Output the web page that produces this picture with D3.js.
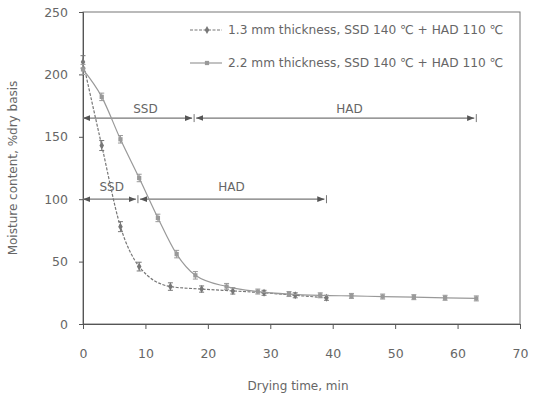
<!DOCTYPE html>
<html>
<head>
<meta charset="UTF-8">
<title>Moisture content vs drying time</title>
<script src="https://cdn.jsdelivr.net/npm/d3@7"></script>
<style>
  body { margin: 0; background: #fff; }
  text { font-family: "DejaVu Sans", sans-serif; fill: #666; }
</style>
</head>
<body>
<svg width="534" height="400"></svg>
<script>
// data
var xTicks = [0, 10, 20, 30, 40, 50, 60, 70];
var yTicks = [0, 50, 100, 150, 200, 250];

var timeA = [0, 3, 6, 9, 14, 19, 24, 29, 34, 39];
var moistA = [210, 143, 78, 46, 30, 28, 26.5, 25, 23, 21];
var errA = [5, 4, 4, 3.5, 3, 2.5, 2.5, 2, 2, 2];

var timeB = [0, 3, 6, 9, 12, 15, 18, 23, 28, 33, 38, 43, 48, 53, 58, 63];
var moistB = [204, 182, 148, 117, 85, 56, 39, 30, 26, 24, 23, 22.5, 22, 21.5, 21, 20.5];
var errB = [4, 3, 3, 3, 3, 3, 3, 2.5, 2, 2, 2, 2, 2, 2, 2, 2];

var seriesNames = ["1.3 mm thickness, SSD 140 \u2103 + HAD 110 \u2103",
                   "2.2 mm thickness, SSD 140 \u2103 + HAD 110 \u2103"];

// drying stage arrows: [label, start, end, level]
var stagesB = [["SSD", 0, 17.8, 165], ["HAD", 17.8, 63, 165]];
var stagesA = [["SSD", 0, 8.8, 100], ["HAD", 8.8, 39, 100]];

var svg = d3.select("svg");
var m = {left: 83, right: 14, top: 12, bottom: 76};
var W = 534, H = 400;

var x = d3.scaleLinear().domain([0, 70]).range([m.left, W - m.right]);
var y = d3.scaleLinear().domain([0, 250]).range([H - m.bottom, m.top]);

// frame
svg.append("rect")
  .attr("x", x(0)).attr("y", y(250))
  .attr("width", x(70) - x(0)).attr("height", y(0) - y(250))
  .attr("fill", "none").attr("stroke", "#777").attr("stroke-width", 1);

var xAxis = svg.append("g").attr("transform", "translate(0," + y(0) + ")")
  .call(d3.axisBottom(x).tickValues(xTicks).tickSize(5).tickPadding(20));
var yAxis = svg.append("g").attr("transform", "translate(" + x(0) + ",0)")
  .call(d3.axisLeft(y).tickValues(yTicks).tickSize(4).tickPadding(11));
[xAxis, yAxis].forEach(function(a) {
  a.select(".domain").attr("stroke", "#555");
  a.selectAll(".tick line").attr("stroke", "#555");
  a.selectAll("text").attr("font-size", 12.5).attr("fill", "#777")
    .style("font-family", "DejaVu Sans, sans-serif");
});

svg.append("text").attr("x", 298).attr("y", 390)
  .attr("text-anchor", "middle").attr("font-size", 12)
  .text("Drying time, min");
svg.append("text")
  .attr("transform", "translate(17,168) rotate(-90)")
  .attr("text-anchor", "middle").attr("font-size", 12)
  .text("Moisture content, %dry basis");

// arrowheads
var defs = svg.append("defs");
defs.append("marker").attr("id", "ah")
  .attr("viewBox", "0 0 10 10").attr("refX", 10).attr("refY", 5)
  .attr("markerWidth", 6).attr("markerHeight", 6).attr("orient", "auto-start-reverse")
  .append("path").attr("d", "M0,1L10,5L0,9Z").attr("fill", "#555");

function drawStages(st) {
  st.forEach(function(s, i) {
    svg.append("line")
      .attr("x1", x(s[1]) + (i ? 2 : 0)).attr("x2", x(s[2]) - 2)
      .attr("y1", y(s[3])).attr("y2", y(s[3]))
      .attr("stroke", "#777").attr("stroke-width", 1.2)
      .attr("marker-start", "url(#ah)").attr("marker-end", "url(#ah)");
    svg.append("line")
      .attr("x1", x(s[2])).attr("x2", x(s[2]))
      .attr("y1", y(s[3]) - 4).attr("y2", y(s[3]) + 4)
      .attr("stroke", "#777");
  });
}
drawStages(stagesB);
drawStages(stagesA);

function stageLabel(txt, t, v) {
  svg.append("text").attr("x", x(t)).attr("y", y(v) + 4).attr("text-anchor", "middle")
    .attr("font-size", 12).text(txt);
}
stageLabel(stagesB[0][0], 10, 172);
stageLabel(stagesB[1][0], 42.7, 172);
stageLabel(stagesA[0][0], 4.6, 110);
stageLabel(stagesA[1][0], 23.8, 110);

// series
function drawSeries(t, v, e, dash, col, shape) {
  var pts = t.map(function(d, i) { return [d, v[i], e[i]]; });
  var line = d3.line().x(function(d) { return x(d[0]); })
    .y(function(d) { return y(d[1]); }).curve(d3.curveMonotoneX);
  svg.append("path").datum(pts).attr("d", line)
    .attr("fill", "none").attr("stroke", col).attr("stroke-width", 1.2)
    .attr("stroke-dasharray", dash);
  var g = svg.append("g");
  pts.forEach(function(d) {
    var cx = x(d[0]), y1 = y(d[1] + d[2]), y2 = y(d[1] - d[2]);
    g.append("path")
      .attr("d", "M" + (cx - 2.5) + "," + y1 + "H" + (cx + 2.5) +
        "M" + cx + "," + y1 + "V" + y2 +
        "M" + (cx - 2.5) + "," + y2 + "H" + (cx + 2.5))
      .attr("stroke", col).attr("stroke-width", 1).attr("fill", "none");
  });
  g.selectAll(".pt").data(pts).enter().append("path").attr("class", "pt")
    .attr("transform", function(d) { return "translate(" + x(d[0]) + "," + y(d[1]) + ")"; })
    .attr("d", d3.symbol().type(shape).size(18))
    .attr("fill", col);
}
drawSeries(timeA, moistA, errA, "3,1.5", "#777", d3.symbolDiamond);
drawSeries(timeB, moistB, errB, null, "#999", d3.symbolSquare);

// legend
var leg = [[seriesNames[0], 30, "3,1.5", "#777", d3.symbolDiamond],
           [seriesNames[1], 63, null, "#999", d3.symbolSquare]];
leg.forEach(function(l) {
  svg.append("line").attr("x1", 190).attr("x2", 222).attr("y1", l[1]).attr("y2", l[1])
    .attr("stroke", l[3]).attr("stroke-width", 1.2).attr("stroke-dasharray", l[2]);
  svg.append("path").attr("transform", "translate(207," + l[1] + ")")
    .attr("d", d3.symbol().type(l[4]).size(18)).attr("fill", l[3]);
  svg.append("text").attr("x", 228).attr("y", l[1] + 4).attr("font-size", 12.2)
    .text(l[0]);
});
</script>
</body>
</html>
